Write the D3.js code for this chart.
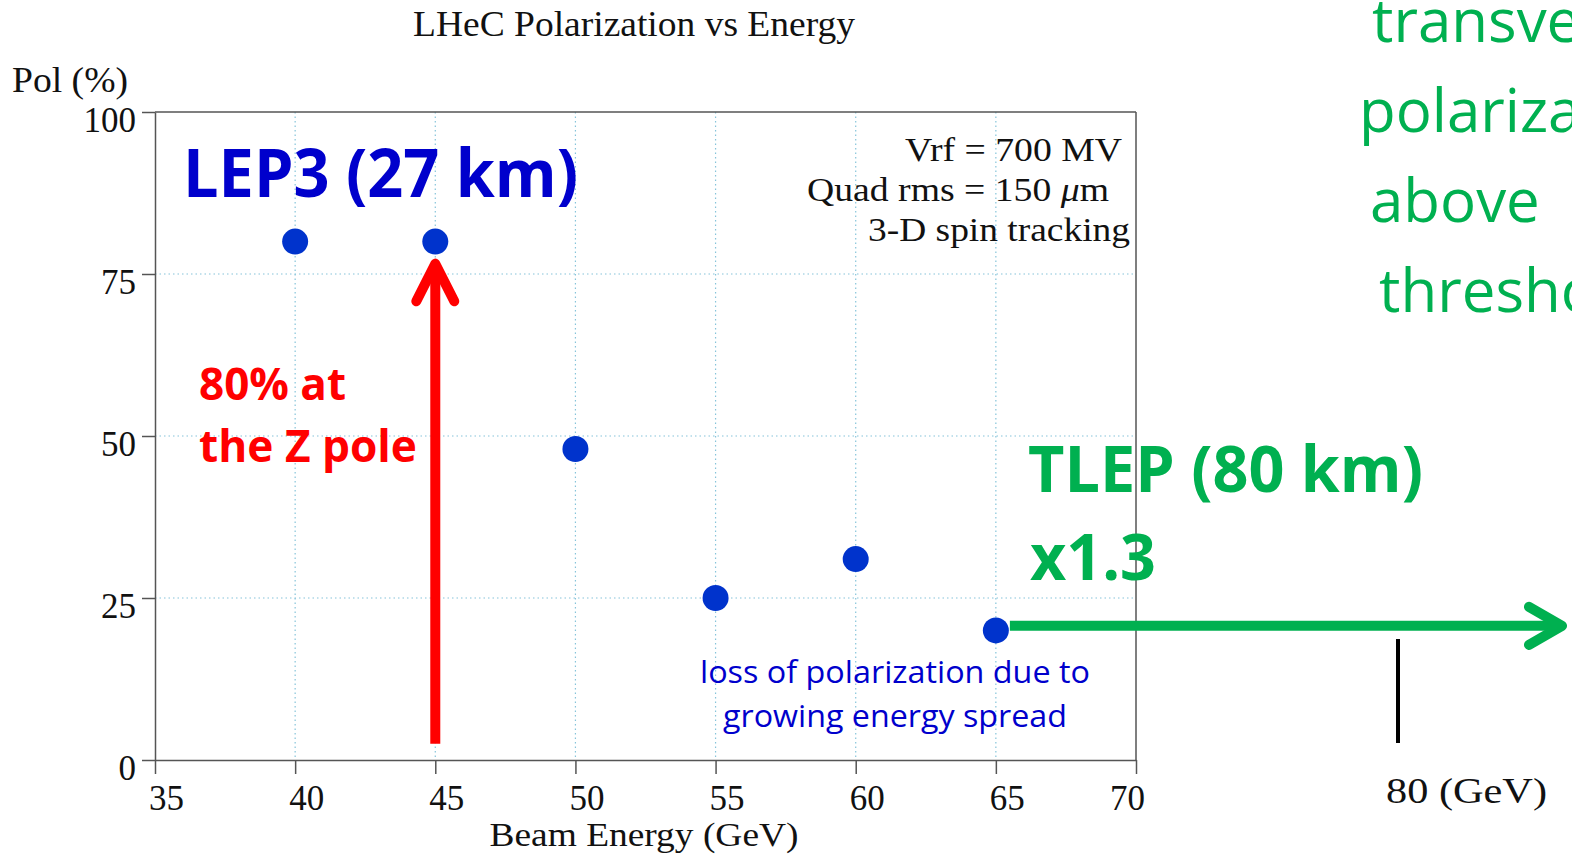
<!DOCTYPE html>
<html>
<head>
<meta charset="utf-8">
<script src="https://cdn.jsdelivr.net/npm/d3@7"></script>
<style>
  html, body { margin: 0; padding: 0; background: #fff; overflow: hidden; }
  svg { display: block; }
  .serif { font-family: "Liberation Serif", "DejaVu Serif", serif; fill: #111; }
  .sans { font-family: "Open Sans", "Noto Sans", sans-serif; }
</style>
</head>
<body>
<svg></svg>
<script>
//Dimensions
const width = 1572, height = 855;

//Data
const energies = [40, 45, 50, 55, 60, 65];
const polarization = [80, 80, 48, 25, 31, 20];
const xTicks = [35, 40, 45, 50, 55, 60, 65, 70];
const yTicks = [0, 25, 50, 75, 100];
const gridX = [40, 45, 50, 55, 60, 65];
const gridY = [25, 50, 75];
const greenNote = ["transverse", "polarization", "above", "threshold"];

const svg = d3.select("svg").attr("width", width).attr("height", height);

//Scales
const x = d3.scaleLinear().domain([35, 70]).range([155, 1136]);
const y = d3.scaleLinear().domain([0, 100]).range([760, 112]);

//Grid (dotted light blue)
svg.append("g").selectAll("line.gx").data(gridX).enter().append("line")
  .attr("x1", d => x(d)).attr("x2", d => x(d))
  .attr("y1", y(100)).attr("y2", y(0))
  .attr("stroke", "#86c4da").attr("stroke-width", 1.2).attr("stroke-dasharray", "1.5,3");
svg.append("g").selectAll("line.gy").data(gridY).enter().append("line")
  .attr("x1", x(35)).attr("x2", x(70))
  .attr("y1", d => y(d)).attr("y2", d => y(d))
  .attr("stroke", "#86c4da").attr("stroke-width", 1.2).attr("stroke-dasharray", "1.5,3");

//Frame: top and right
svg.append("line").attr("x1", x(35)).attr("x2", x(70)).attr("y1", y(100)).attr("y2", y(100))
  .attr("stroke", "#555").attr("stroke-width", 1.5);
svg.append("line").attr("x1", x(70)).attr("x2", x(70)).attr("y1", y(100)).attr("y2", y(0))
  .attr("stroke", "#555").attr("stroke-width", 1.5);

//Axes
const xAxis = svg.append("g").attr("transform", `translate(0,${y(0)})`)
  .call(d3.axisBottom(x).tickValues(xTicks).tickSize(14).tickPadding(6).tickSizeOuter(0));
const yAxis = svg.append("g").attr("transform", `translate(${x(35)},0)`)
  .call(d3.axisLeft(y).tickValues(yTicks).tickSize(13).tickPadding(5).tickSizeOuter(0));
[xAxis, yAxis].forEach(a => {
  a.select(".domain").attr("stroke", "#555").attr("stroke-width", 1.5);
  a.selectAll(".tick line").attr("stroke", "#555").attr("stroke-width", 1.5);
  a.selectAll(".tick text").attr("class", "serif").attr("font-size", 35).attr("fill", "#111");
});
// labels sit a little right of their ticks, except the last one
xAxis.selectAll(".tick text").attr("dy", null).attr("y", 50)
  .attr("x", d => d === 70 ? -9 : 11);
yAxis.selectAll(".tick text").attr("dy", null).attr("y", 19).attr("x", -19);

//Titles
svg.append("text").attr("class", "serif").attr("x", 634).attr("y", 36)
  .attr("text-anchor", "middle").attr("font-size", 36)
  .attr("textLength", 442).attr("lengthAdjust", "spacingAndGlyphs")
  .text("LHeC Polarization vs Energy");
svg.append("text").attr("class", "serif").attr("x", 12).attr("y", 92)
  .attr("font-size", 35).attr("textLength", 116).attr("lengthAdjust", "spacingAndGlyphs")
  .text("Pol (%)");
svg.append("text").attr("class", "serif").attr("x", 644).attr("y", 846)
  .attr("text-anchor", "middle").attr("font-size", 34)
  .attr("textLength", 309).attr("lengthAdjust", "spacingAndGlyphs")
  .text("Beam Energy (GeV)");

//Settings box text
const s1 = svg.append("text").attr("class", "serif").attr("text-anchor", "end")
  .attr("x", 1122).attr("y", 161).attr("font-size", 33)
  .attr("textLength", 217).attr("lengthAdjust", "spacingAndGlyphs")
  .text("Vrf = 700 MV");
const s2 = svg.append("text").attr("class", "serif").attr("text-anchor", "end")
  .attr("x", 1109).attr("y", 201).attr("font-size", 33)
  .attr("textLength", 302).attr("lengthAdjust", "spacingAndGlyphs");
s2.append("tspan").text("Quad rms = 150 ");
s2.append("tspan").attr("font-style", "italic").text("\u03bc");
s2.append("tspan").text("m");
svg.append("text").attr("class", "serif").attr("text-anchor", "end")
  .attr("x", 1130).attr("y", 241).attr("font-size", 33)
  .attr("textLength", 262).attr("lengthAdjust", "spacingAndGlyphs")
  .text("3-D spin tracking");

//Red arrow (Z pole, 45 GeV)
const red = "#ff0000";
svg.append("line").attr("x1", x(45)).attr("x2", x(45)).attr("y1", y(2.5)).attr("y2", y(76.5))
  .attr("stroke", red).attr("stroke-width", 10);
svg.append("path")
  .attr("d", `M${x(45) - 19},${y(70.8)} L${x(45)},${y(76.6)} L${x(45) + 19},${y(70.8)}`)
  .attr("fill", "none").attr("stroke", red).attr("stroke-width", 10)
  .attr("stroke-linecap", "round").attr("stroke-linejoin", "round");

//Green arrow (TLEP)
const green = "#00b050";
const gy = y(20.7);
svg.append("line").attr("x1", x(65.5)).attr("x2", 1560).attr("y1", gy).attr("y2", gy)
  .attr("stroke", green).attr("stroke-width", 10);
svg.append("path")
  .attr("d", `M1529,${gy - 19} L1562,${gy} L1529,${gy + 19}`)
  .attr("fill", "none").attr("stroke", green).attr("stroke-width", 10)
  .attr("stroke-linecap", "round").attr("stroke-linejoin", "round");

//Black marker at 80 GeV
svg.append("line").attr("x1", 1398).attr("x2", 1398).attr("y1", 639).attr("y2", 743)
  .attr("stroke", "#000").attr("stroke-width", 4);
svg.append("text").attr("class", "serif").attr("x", 1386).attr("y", 803)
  .attr("font-size", 36).attr("textLength", 161).attr("lengthAdjust", "spacingAndGlyphs")
  .text("80 (GeV)");

//Points
svg.append("g").selectAll("circle").data(energies).enter().append("circle")
  .attr("cx", d => x(d)).attr("cy", (d, i) => y(polarization[i]))
  .attr("r", 13).attr("fill", "#0033cc");

//Annotations
svg.append("text").attr("class", "sans").attr("x", 183).attr("y", 197)
  .attr("font-size", 66).attr("font-weight", 700).attr("fill", "#0000cc")
  .attr("textLength", 395).attr("lengthAdjust", "spacingAndGlyphs")
  .text("LEP3 (27 km)");

svg.append("text").attr("class", "sans").attr("x", 199).attr("y", 400)
  .attr("font-size", 44).attr("font-weight", 700).attr("fill", red)
  .attr("textLength", 147).attr("lengthAdjust", "spacingAndGlyphs")
  .text("80% at");
svg.append("text").attr("class", "sans").attr("x", 199).attr("y", 462)
  .attr("font-size", 44).attr("font-weight", 700).attr("fill", red)
  .attr("textLength", 218).attr("lengthAdjust", "spacingAndGlyphs")
  .text("the Z pole");

svg.append("text").attr("class", "sans").attr("x", 1028).attr("y", 492)
  .attr("font-size", 64).attr("font-weight", 700).attr("fill", green)
  .attr("textLength", 395).attr("lengthAdjust", "spacingAndGlyphs")
  .text("TLEP (80 km)");
svg.append("text").attr("class", "sans").attr("x", 1030).attr("y", 580)
  .attr("font-size", 64).attr("font-weight", 700).attr("fill", green)
  .attr("textLength", 126).attr("lengthAdjust", "spacingAndGlyphs")
  .text("x1.3");

svg.append("text").attr("class", "sans").attr("x", 895).attr("y", 683)
  .attr("text-anchor", "middle").attr("font-size", 31).attr("fill", "#0000cc")
  .attr("textLength", 390).attr("lengthAdjust", "spacingAndGlyphs")
  .text("loss of polarization due to");
svg.append("text").attr("class", "sans").attr("x", 895).attr("y", 727)
  .attr("text-anchor", "middle").attr("font-size", 31).attr("fill", "#0000cc")
  .attr("textLength", 344).attr("lengthAdjust", "spacingAndGlyphs")
  .text("growing energy spread");

const noteX = [1372, 1359, 1370, 1379];
svg.append("g").selectAll("text").data(greenNote).enter().append("text")
  .attr("class", "sans").attr("x", (d, i) => noteX[i]).attr("y", (d, i) => 42 + i * 90)
  .attr("font-size", 60).attr("fill", green)
  .text(d => d);
</script>
</body>
</html>
